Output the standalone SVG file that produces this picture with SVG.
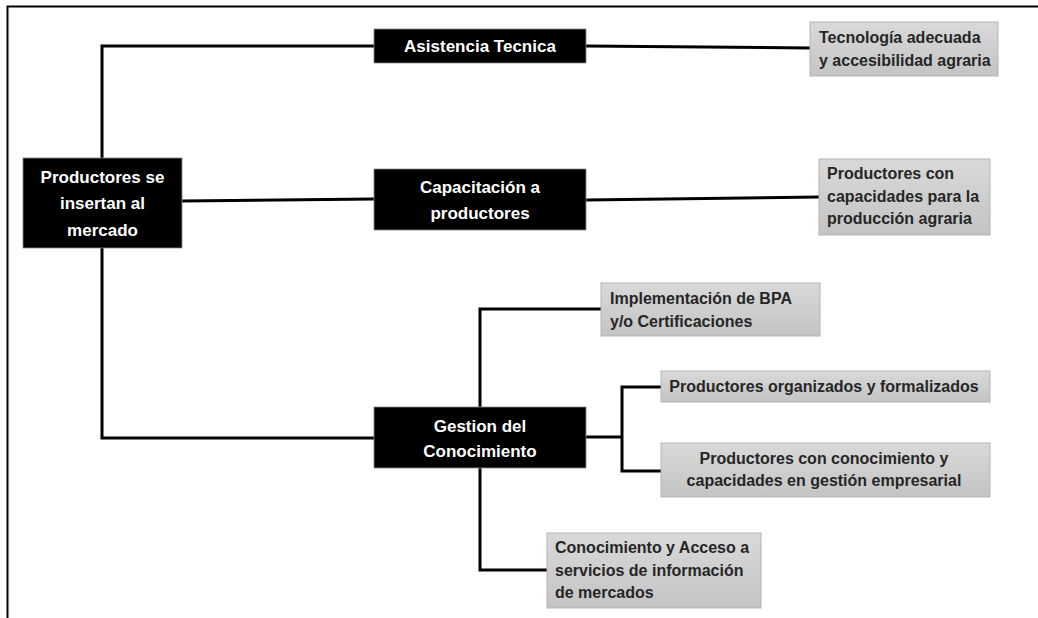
<svg xmlns="http://www.w3.org/2000/svg" width="1038" height="618" viewBox="0 0 1038 618">
<defs>
<linearGradient id="g" x1="0" y1="0" x2="0" y2="1">
<stop offset="0" stop-color="#d9d9d9"/>
<stop offset="1" stop-color="#c4c4c4"/>
</linearGradient>
<style>
.b{fill:#000;stroke:#8a8a8a;stroke-width:0.8}
.g{fill:url(#g);stroke:#b3b3b3;stroke-width:1}
.bt{font-family:"Liberation Sans",Arial,sans-serif;font-weight:bold;font-size:17px;fill:#fff;text-anchor:middle}
.gt{font-family:"Liberation Sans",Arial,sans-serif;font-weight:bold;font-size:16px;fill:#262626}
.c{text-anchor:middle}
.ln{fill:none;stroke:#000;stroke-width:3}
</style>
</defs>
<rect width="1038" height="618" fill="#fff"/>
<path d="M7.5,618 V6.5 H1038" fill="none" stroke="#000" stroke-width="2"/>
<g id="connectors">
<path class="ln" d="M102,158 V46 H374"/>
<path class="ln" d="M182,201 L374,199"/>
<path class="ln" d="M102,248 V438 H374"/>
<path class="ln" d="M586,46 L810,48"/>
<path class="ln" d="M586,200 L819,197"/>
<path class="ln" d="M480,407 V309 H601"/>
<path class="ln" d="M480,468 V570 H547"/>
<path class="ln" d="M586,437 H622"/>
<path class="ln" d="M661,387 H622 V471 H661"/>
</g>
<g id="main">
<rect class="b" x="23" y="158" width="159" height="90"/>
<text class="bt" x="102.5" y="183">Productores se</text>
<text class="bt" x="102.5" y="209">insertan al</text>
<text class="bt" x="102.5" y="236">mercado</text>
</g>
<g id="asistencia">
<rect class="b" x="374" y="29" width="212" height="34"/>
<text class="bt" x="480" y="52">Asistencia Tecnica</text>
</g>
<g id="capacitacion">
<rect class="b" x="374" y="169" width="212" height="61"/>
<text class="bt" x="480" y="193">Capacitación a</text>
<text class="bt" x="480" y="219">productores</text>
</g>
<g id="gestion">
<rect class="b" x="374" y="407" width="212" height="61"/>
<text class="bt" x="480" y="432">Gestion del</text>
<text class="bt" x="480" y="457">Conocimiento</text>
</g>
<g id="tecnologia">
<rect class="g" x="810" y="22" width="188" height="54"/>
<text class="gt" x="819" y="43">Tecnología adecuada</text>
<text class="gt" x="819" y="66">y accesibilidad agraria</text>
</g>
<g id="prod-capacidades">
<rect class="g" x="819" y="159" width="171" height="76"/>
<text class="gt" x="827" y="179">Productores con</text>
<text class="gt" x="827" y="202">capacidades para la</text>
<text class="gt" x="827" y="224">producción agraria</text>
</g>
<g id="bpa">
<rect class="g" x="601" y="283" width="219" height="53"/>
<text class="gt" x="610" y="304">Implementación de BPA</text>
<text class="gt" x="610" y="327">y/o Certificaciones</text>
</g>
<g id="organizados">
<rect class="g" x="661" y="371" width="329" height="31"/>
<text class="gt c" x="824" y="392">Productores organizados y formalizados</text>
</g>
<g id="gestion-empresarial">
<rect class="g" x="661" y="443" width="329" height="54"/>
<text class="gt c" x="824" y="464">Productores con conocimiento y</text>
<text class="gt c" x="824" y="486">capacidades en gestión empresarial</text>
</g>
<g id="mercados">
<rect class="g" x="547" y="533" width="214" height="75"/>
<text class="gt" x="555" y="553">Conocimiento y Acceso a</text>
<text class="gt" x="555" y="576">servicios de información</text>
<text class="gt" x="555" y="598">de mercados</text>
</g>
</svg>
